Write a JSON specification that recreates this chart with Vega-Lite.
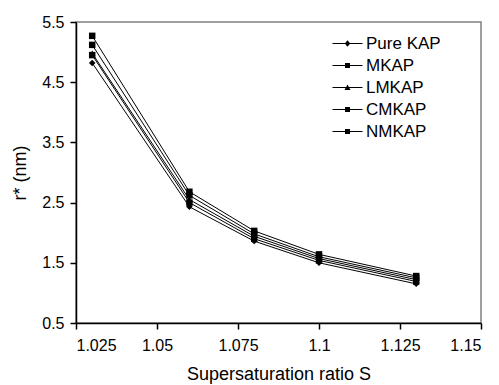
{
  "$schema": "https://vega.github.io/schema/vega-lite/v6.json",
  "width": 405,
  "height": 301,
  "autosize": {"type": "none"},
  "padding": {"left": 76, "top": 22, "right": 18, "bottom": 62},
  "background": "white",
  "config": {
    "font": "Liberation Sans",
    "view": {"stroke": "#808080", "strokeWidth": 1.5},
    "axis": {
      "grid": false,
      "domainColor": "black",
      "domainWidth": 1.5,
      "tickColor": "black",
      "tickWidth": 1.5,
      "tickSize": 6,
      "labelFont": "Liberation Sans",
      "labelFontSize": 16,
      "labelColor": "black",
      "titleFont": "Liberation Sans",
      "titleFontSize": 18,
      "titleFontWeight": "normal",
      "titleColor": "black"
    }
  },
  "data": {
    "values": [
      {"S": 1.03, "r": 4.82, "series": "Pure KAP"},
      {"S": 1.06, "r": 2.43, "series": "Pure KAP"},
      {"S": 1.08, "r": 1.86, "series": "Pure KAP"},
      {"S": 1.10, "r": 1.50, "series": "Pure KAP"},
      {"S": 1.13, "r": 1.15, "series": "Pure KAP"},
      {"S": 1.03, "r": 4.95, "series": "MKAP"},
      {"S": 1.06, "r": 2.50, "series": "MKAP"},
      {"S": 1.08, "r": 1.90, "series": "MKAP"},
      {"S": 1.10, "r": 1.54, "series": "MKAP"},
      {"S": 1.13, "r": 1.19, "series": "MKAP"},
      {"S": 1.03, "r": 4.98, "series": "LMKAP"},
      {"S": 1.06, "r": 2.55, "series": "LMKAP"},
      {"S": 1.08, "r": 1.94, "series": "LMKAP"},
      {"S": 1.10, "r": 1.57, "series": "LMKAP"},
      {"S": 1.13, "r": 1.22, "series": "LMKAP"},
      {"S": 1.03, "r": 5.12, "series": "CMKAP"},
      {"S": 1.06, "r": 2.62, "series": "CMKAP"},
      {"S": 1.08, "r": 1.98, "series": "CMKAP"},
      {"S": 1.10, "r": 1.60, "series": "CMKAP"},
      {"S": 1.13, "r": 1.25, "series": "CMKAP"},
      {"S": 1.03, "r": 5.27, "series": "NMKAP"},
      {"S": 1.06, "r": 2.68, "series": "NMKAP"},
      {"S": 1.08, "r": 2.03, "series": "NMKAP"},
      {"S": 1.10, "r": 1.64, "series": "NMKAP"},
      {"S": 1.13, "r": 1.28, "series": "NMKAP"}
    ]
  },
  "encoding": {
    "x": {
      "field": "S",
      "type": "quantitative",
      "scale": {"domain": [1.025, 1.15], "nice": false, "zero": false},
      "axis": {
        "values": [1.025, 1.05, 1.075, 1.1, 1.125, 1.15],
        "format": ".3~f",
        "title": "Supersaturation ratio S",
        "labelPadding": 8,
        "titlePadding": 12
      }
    },
    "y": {
      "field": "r",
      "type": "quantitative",
      "scale": {"domain": [0.5, 5.5], "nice": false, "zero": false},
      "axis": {
        "values": [0.5, 1.5, 2.5, 3.5, 4.5, 5.5],
        "format": ".1f",
        "title": "r* (nm)",
        "labelPadding": 6,
        "titlePadding": 12
      }
    }
  },
  "layer": [
    {
      "mark": {"type": "line", "color": "black", "strokeWidth": 1},
      "encoding": {
        "detail": {"field": "series", "type": "nominal"}
      }
    },
    {
      "mark": {"type": "point", "filled": true, "color": "black", "opacity": 1, "size": 42},
      "encoding": {
        "shape": {
          "field": "series",
          "type": "nominal",
          "scale": {
            "domain": ["Pure KAP", "MKAP", "LMKAP", "CMKAP", "NMKAP"],
            "range": ["diamond", "square", "triangle-up", "square", "square"]
          },
          "legend": null
        }
      }
    },
    {
      "transform": [{"filter": "false"}],
      "mark": {"type": "point", "filled": true, "color": "black", "opacity": 1, "size": 100},
      "encoding": {
        "shape": {
          "field": "series",
          "type": "nominal",
          "scale": {
            "domain": ["Pure KAP", "MKAP", "LMKAP", "CMKAP", "NMKAP"],
            "range": [
              "M-3,-0.1H3V0.1H-3ZM0,-0.65L0.55,0L0,0.65L-0.55,0Z",
              "M-3,-0.1H3V0.1H-3ZM-0.5,-0.5H0.5V0.5H-0.5Z",
              "M-3,-0.1H3V0.1H-3ZM0,-0.6L0.6,0.5H-0.6Z",
              "M-3,-0.1H3V0.1H-3ZM-0.5,-0.5H0.5V0.5H-0.5Z",
              "M-3,-0.1H3V0.1H-3ZM-0.5,-0.5H0.5V0.5H-0.5Z"
            ]
          },
          "legend": {
            "title": null,
            "orient": "none",
            "legendX": 263,
            "legendY": 13,
            "padding": 0,
            "symbolSize": 100,
            "symbolFillColor": "black",
            "labelFont": "Liberation Sans",
            "labelFontSize": 17,
            "labelColor": "black",
            "labelOffset": 10,
            "rowPadding": 4
          }
        }
      }
    }
  ],
  "resolve": {"scale": {"shape": "independent"}}
}
